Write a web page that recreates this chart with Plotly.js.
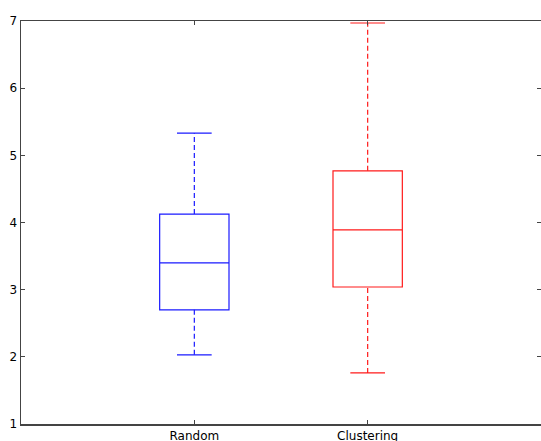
<!DOCTYPE html>
<html>
<head>
<meta charset="utf-8">
<script src="https://cdn.plot.ly/plotly-3.0.1.min.js"></script>
<style>html,body{margin:0;padding:0;background:#fff;}#chart{width:541px;height:441px;}</style>
</head>
<body>
<div id="chart"></div>
<script>
const categories = ['Random', 'Clustering'];
const positions = [1, 2];
const colors = ['#1a1aff', '#ff1a1a'];
const lowerWhisker = [2.03, 1.76];
const q1 = [2.70, 3.04];
const median = [3.40, 3.89];
const q3 = [4.125, 4.77];
const upperWhisker = [5.33, 6.97];
const boxWidth = 0.4;
const capWidth = 0.2;

const traces = [];
categories.forEach((name, i) => {
  const x = positions[i];
  traces.push({
    type: 'box', x: [x], q1: [q1[i]], median: [median[i]], q3: [q3[i]],
    lowerfence: [q1[i]], upperfence: [q3[i]], width: boxWidth, whiskerwidth: 0,
    line: {color: colors[i], width: 1.2}, fillcolor: 'rgba(0,0,0,0)',
    boxpoints: false, hoverinfo: 'skip', showlegend: false, name: name
  });
  traces.push({
    type: 'scatter', mode: 'lines',
    x: [x, x, null, x, x],
    y: [lowerWhisker[i], q1[i], null, q3[i], upperWhisker[i]],
    line: {color: colors[i], width: 1.2, dash: '5px,3px'},
    hoverinfo: 'skip', showlegend: false
  });
  traces.push({
    type: 'scatter', mode: 'lines',
    x: [x - capWidth / 2, x + capWidth / 2, null, x - capWidth / 2, x + capWidth / 2],
    y: [lowerWhisker[i], lowerWhisker[i], null, upperWhisker[i], upperWhisker[i]],
    line: {color: colors[i], width: 1.2},
    hoverinfo: 'skip', showlegend: false
  });
});

const layout = {
  width: 541, height: 441,
  margin: {l: 21, r: 0, t: 21, b: 17, pad: 0},
  paper_bgcolor: '#fff', plot_bgcolor: '#fff',
  font: {family: 'DejaVu Sans, sans-serif', size: 12, color: '#000'},
  showlegend: false,
  xaxis: {
    range: [0, 3], tickvals: positions, ticktext: categories,
    showgrid: false, zeroline: false, showline: true, mirror: 'ticks',
    linecolor: '#444', linewidth: 1.5, ticks: 'inside', ticklen: 4, tickcolor: '#444',
    tickfont: {size: 12}
  },
  yaxis: {
    range: [1, 7], tickvals: [1, 2, 3, 4, 5, 6, 7],
    showgrid: false, zeroline: false, showline: true, mirror: 'ticks',
    linecolor: '#444', linewidth: 1.5, ticks: 'inside', ticklen: 4, tickcolor: '#444',
    tickfont: {size: 12}
  }
};

Plotly.newPlot('chart', traces, layout, {displayModeBar: false, staticPlot: true});
</script>
</body>
</html>
